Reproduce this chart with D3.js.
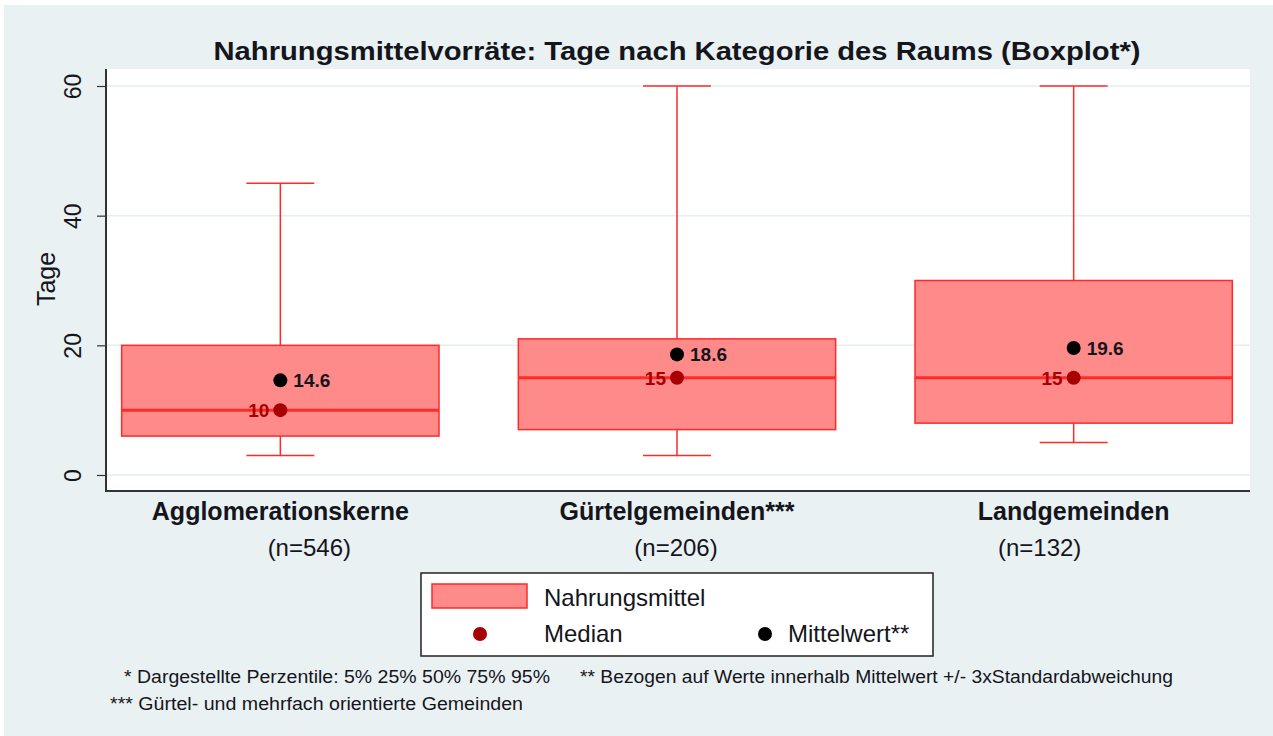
<!DOCTYPE html>
<html>
<head>
<meta charset="utf-8">
<script src="https://cdn.jsdelivr.net/npm/d3@7"></script>
<style>
  body { margin: 0; background: #ffffff; }
  text { font-family: Arial, "Liberation Sans", sans-serif; }
</style>
</head>
<body>
<div id="chart"></div>
<script>
// Chart data
const categories = ["Agglomerationskerne", "Gürtelgemeinden***", "Landgemeinden"];
const nLabels = ["(n=546)", "(n=206)", "(n=132)"];
const p5 = [3, 3, 5];
const p25 = [6, 7, 8];
const p50 = [10, 15, 15];
const p75 = [20, 21, 30];
const p95 = [45, 60, 60];
const means = [14.6, 18.6, 19.6];
const yTicks = [0, 20, 40, 60];
const footnotes = [
  "* Dargestellte Perzentile: 5% 25% 50% 75% 95%",
  "** Bezogen auf Werte innerhalb Mittelwert +/- 3xStandardabweichung",
  "*** Gürtel- und mehrfach orientierte Gemeinden"
];

const W = 1273, H = 736;
const plot = { left: 106, right: 1250, top: 69, bottom: 491 };
const nOffset = [29, -1, -34]; // n labels sit a bit off the box centres
const ink = "#15151c";

const svg = d3.select("#chart").append("svg")
    .attr("width", W)
    .attr("height", H);

// background
svg.append("rect").attr("x", 4).attr("y", 5).attr("width", W - 4).attr("height", H - 5)
    .attr("fill", "#e9f1f3");
svg.append("rect")
    .attr("x", plot.left).attr("y", plot.top)
    .attr("width", plot.right - plot.left).attr("height", plot.bottom - plot.top)
    .attr("fill", "#ffffff");

// scales
const y = d3.scaleLinear().domain([0, 60]).range([475, 86]);
const x = d3.scaleBand().domain(categories).range([82, 1272]).paddingInner(0.2).paddingOuter(0.1);
const cx = d => x(d) + x.bandwidth() / 2;

// gridlines
svg.append("g").selectAll("line")
    .data(yTicks).enter().append("line")
    .attr("x1", plot.left).attr("x2", plot.right)
    .attr("y1", d => y(d)).attr("y2", d => y(d))
    .attr("stroke", "#e6eef1").attr("stroke-width", 1.5);

// title
svg.append("text")
    .attr("x", 677).attr("y", 60)
    .attr("text-anchor", "middle")
    .attr("font-size", 26).attr("font-weight", "bold")
    .attr("fill", ink)
    .attr("textLength", 927).attr("lengthAdjust", "spacingAndGlyphs")
    .text("Nahrungsmittelvorräte: Tage nach Kategorie des Raums (Boxplot*)");

// y axis
const yAxis = svg.append("g")
    .attr("transform", `translate(${plot.left},0)`)
    .call(d3.axisLeft(y).tickValues(yTicks).tickSize(9).tickSizeOuter(0).tickFormat(d3.format("d")));
yAxis.select(".domain").remove();
yAxis.selectAll(".tick line").attr("stroke", "#333").attr("stroke-width", 1.2);
yAxis.selectAll(".tick text")
    .attr("font-size", 23).attr("fill", ink)
    .attr("font-family", "Arial, 'Liberation Sans', sans-serif")
    .attr("transform", "rotate(-90)")
    .attr("x", 0).attr("y", -25)
    .attr("dy", "0")
    .attr("text-anchor", "middle");
svg.append("line").attr("x1", plot.left).attr("x2", plot.left)
    .attr("y1", plot.top).attr("y2", plot.bottom + 1)
    .attr("stroke", "#333").attr("stroke-width", 2);
svg.append("line").attr("x1", plot.left).attr("x2", plot.right)
    .attr("y1", plot.bottom).attr("y2", plot.bottom)
    .attr("stroke", "#333").attr("stroke-width", 2);

svg.append("text")
    .attr("transform", `translate(55,${(plot.top + plot.bottom) / 2 - 1}) rotate(-90)`)
    .attr("text-anchor", "middle")
    .attr("font-size", 25).attr("fill", ink)
    .text("Tage");

// boxes
const red = "#ff2a2a";
const boxes = svg.append("g").selectAll("g")
    .data(categories).enter().append("g");

boxes.append("line")
    .attr("x1", cx).attr("x2", cx)
    .attr("y1", (d, i) => y(p95[i])).attr("y2", (d, i) => y(p75[i]))
    .attr("stroke", red).attr("stroke-width", 1.5);
boxes.append("line")
    .attr("x1", cx).attr("x2", cx)
    .attr("y1", (d, i) => y(p25[i])).attr("y2", (d, i) => y(p5[i]))
    .attr("stroke", red).attr("stroke-width", 1.5);
[p5, p95].forEach(arr => {
  boxes.append("line")
      .attr("x1", d => cx(d) - 34).attr("x2", d => cx(d) + 34)
      .attr("y1", (d, i) => y(arr[i])).attr("y2", (d, i) => y(arr[i]))
      .attr("stroke", red).attr("stroke-width", 1.5);
});
boxes.append("rect")
    .attr("x", d => x(d)).attr("width", x.bandwidth())
    .attr("y", (d, i) => y(p75[i]))
    .attr("height", (d, i) => y(p25[i]) - y(p75[i]))
    .attr("fill", "#ff8a8a").attr("stroke", red).attr("stroke-width", 1.5);
boxes.append("line")
    .attr("x1", d => x(d)).attr("x2", d => x(d) + x.bandwidth())
    .attr("y1", (d, i) => y(p50[i])).attr("y2", (d, i) => y(p50[i]))
    .attr("stroke", red).attr("stroke-width", 3);

// median markers
boxes.append("circle")
    .attr("cx", cx).attr("cy", (d, i) => y(p50[i]))
    .attr("r", 7).attr("fill", "#a80000");
boxes.append("text")
    .attr("x", d => cx(d) - 11).attr("y", (d, i) => y(p50[i]) + 7)
    .attr("text-anchor", "end")
    .attr("font-size", 19).attr("font-weight", "bold").attr("fill", "#a80000")
    .text((d, i) => p50[i]);

// mean markers
boxes.append("circle")
    .attr("cx", cx).attr("cy", (d, i) => y(means[i]))
    .attr("r", 7).attr("fill", "#000");
boxes.append("text")
    .attr("x", d => cx(d) + 13).attr("y", (d, i) => y(means[i]) + 7)
    .attr("font-size", 19).attr("font-weight", "bold").attr("fill", ink)
    .text((d, i) => d3.format(".1f")(means[i]));

// category labels
boxes.append("text")
    .attr("x", cx).attr("y", 520)
    .attr("text-anchor", "middle")
    .attr("font-size", 25).attr("font-weight", "bold").attr("fill", ink)
    .text(d => d);
boxes.append("text")
    .attr("x", (d, i) => cx(d) + nOffset[i]).attr("y", 556)
    .attr("text-anchor", "middle")
    .attr("font-size", 24).attr("fill", ink)
    .text((d, i) => nLabels[i]);

// legend
const lg = svg.append("g");
lg.append("rect").attr("x", 421).attr("y", 573).attr("width", 512).attr("height", 83)
    .attr("fill", "#fff").attr("stroke", "#222").attr("stroke-width", 1.5);
lg.append("rect").attr("x", 432).attr("y", 584).attr("width", 95).attr("height", 24)
    .attr("fill", "#ff8a8a").attr("stroke", red).attr("stroke-width", 1.5);
lg.append("text").attr("x", 544).attr("y", 606).attr("font-size", 24).attr("fill", ink)
    .text("Nahrungsmittel");
lg.append("circle").attr("cx", 480).attr("cy", 634).attr("r", 7).attr("fill", "#a80000");
lg.append("text").attr("x", 544).attr("y", 642).attr("font-size", 24).attr("fill", ink)
    .text("Median");
lg.append("circle").attr("cx", 765).attr("cy", 634).attr("r", 7).attr("fill", "#000");
lg.append("text").attr("x", 788).attr("y", 642).attr("font-size", 24).attr("fill", ink)
    .text("Mittelwert**");

// footnotes
const fn = [
  { x: 124, y: 683, w: 426 },
  { x: 580, y: 683, w: 593 },
  { x: 110, y: 710, w: 413 }
];
svg.append("g").selectAll("text")
    .data(footnotes).enter().append("text")
    .attr("x", (d, i) => fn[i].x).attr("y", (d, i) => fn[i].y)
    .attr("font-size", 17.5).attr("fill", ink)
    .attr("textLength", (d, i) => fn[i].w)
    .attr("lengthAdjust", "spacingAndGlyphs")
    .text(d => d);
</script>
</body>
</html>
